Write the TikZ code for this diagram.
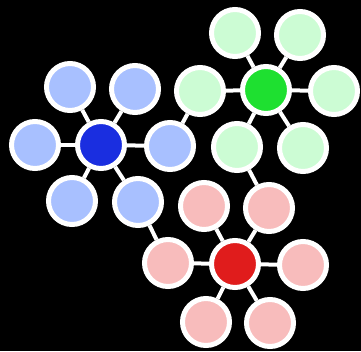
\documentclass[tikz,border=0pt]{standalone}
\definecolor{bdark}{HTML}{1A2EE0}
\definecolor{blight}{HTML}{A8C0FF}
\definecolor{gdark}{HTML}{1EE030}
\definecolor{glight}{HTML}{CCFCD4}
\definecolor{rdark}{HTML}{E01C1C}
\definecolor{rlight}{HTML}{F8BCBC}
\tikzset{
  dot/.style={circle, draw=white, line width=5pt, minimum size=47pt, inner sep=0pt},
  link/.style={draw=white, line width=4pt}
}
\begin{document}
\begin{tikzpicture}[x=1pt,y=-1pt]
\fill[black] (0,0) rectangle (361,351);
\useasboundingbox (0,0) rectangle (361,351);
% blue cluster
\node[dot, fill=bdark] (b) at (101,145) {};
\node[dot, fill=blight] (b1) at (70,87) {};
\node[dot, fill=blight] (b2) at (135,89) {};
\node[dot, fill=blight] (b3) at (35,145) {};
\node[dot, fill=blight] (b4) at (170,146) {};
\node[dot, fill=blight] (b5) at (72,201) {};
\node[dot, fill=blight] (b6) at (138,202) {};
% green cluster
\node[dot, fill=gdark] (g) at (266,90) {};
\node[dot, fill=glight] (g1) at (235,33) {};
\node[dot, fill=glight] (g2) at (300,35) {};
\node[dot, fill=glight] (g3) at (200,91) {};
\node[dot, fill=glight] (g4) at (334,91) {};
\node[dot, fill=glight] (g5) at (237,147) {};
\node[dot, fill=glight] (g6) at (303,148) {};
% red cluster
\node[dot, fill=rdark] (r) at (235,264) {};
\node[dot, fill=rlight] (r1) at (204,206) {};
\node[dot, fill=rlight] (r2) at (269,208) {};
\node[dot, fill=rlight] (r3) at (168,263) {};
\node[dot, fill=rlight] (r4) at (303,265) {};
\node[dot, fill=rlight] (r5) at (206,322) {};
\node[dot, fill=rlight] (r6) at (270,323) {};
% links
\foreach \c in {b,g,r}{
  \foreach \i in {1,...,6}{
    \draw[link] (\c) -- (\c\i);
  }
}
\draw[link] (b4) -- (g3);
\draw[link] (b6) -- (r3);
\draw[link] (g5) -- (r2);
\end{tikzpicture}
\end{document}
